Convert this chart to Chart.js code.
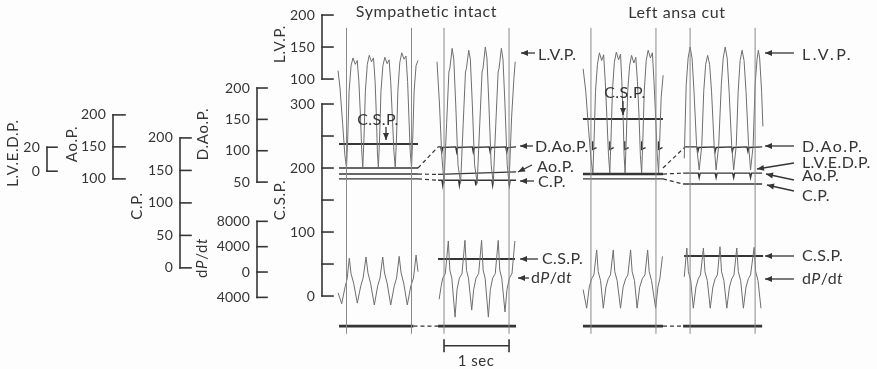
<!DOCTYPE html>
<html>
<head>
<meta charset="utf-8">
<script src="https://cdn.jsdelivr.net/npm/chart.js@4"></script>
<style>
  html, body { margin: 0; padding: 0; background: #fdfdfd; }
  canvas { display: block; }
</style>
</head>
<body>
<canvas id="fig" width="877" height="369"></canvas>
<script>
// Values. Every trace is given on the C.S.P. scale (mmHg),
// i.e. the level where it sits; time is in s from the first 1-s mark of its strip.

const titles = ['Sympathetic intact', 'Left ansa cut'];

// calibration bars on the left (own units)
const lvedpTicks = [0, 20];
const aopTicks = [100, 150, 200];
const cpTicks = [0, 50, 100, 150, 200];
const daopTicks = [50, 100, 150, 200];
const dpdtTicks = [-4000, 0, 4000, 8000];
const dpdtTickLabels = ['4000', '0', '4000', '8000'];
const lvpTicks = [100, 150, 200];
const cspTicks = [0, 50, 100, 150, 200, 250, 300];
const cspTickLabels = ['0', '', '100', '', '200', '', '300'];
const axisNames = ['L.V.E.D.P.', 'Ao.P.', 'C.P.', 'D.Ao.P.', 'dP/dt', 'L.V.P.', 'C.S.P.'];

const labelsIntact = ['L.V.P.', 'D.Ao.P.', 'Ao.P.', 'C.P.', 'C.S.P.', 'dP/dt'];
const labelsCut = ['L.V.P.', 'D.Ao.P.', 'L.V.E.D.P.', 'Ao.P.', 'C.P.', 'C.S.P.', 'dP/dt'];

// left ventricular pressure
const lvpIntactA = [[-0.13,352],[-0.1,325],[-0.06,270],[-0.025,220],
  [0,200],[0.02,250],[0.04,320],[0.07,360],[0.1,372],[0.135,362],[0.165,368],[0.19,335],[0.215,280],[0.235,225],
  [0.25,200],[0.27,250],[0.29,320],[0.32,362],[0.35,376],[0.385,366],[0.415,372],[0.44,335],[0.46,280],[0.475,225],
  [0.49,200],[0.51,250],[0.53,320],[0.56,360],[0.59,373],[0.625,363],[0.655,369],[0.68,335],[0.705,280],[0.73,225],
  [0.75,200],[0.77,250],[0.79,320],[0.82,365],[0.85,380],[0.885,370],[0.915,375],[0.94,335],[0.96,280],[0.98,225],
  [1.0,200],[1.02,250],[1.04,320],[1.07,360],[1.1,368]];
const lvpIntactB = [[-0.108,366],[-0.07,300],[-0.035,220],
  [0,176],[0.04,270],[0.075,350],[0.09,356],[0.125,387],[0.15,370],[0.18,300],[0.215,205],
  [0.255,176],[0.295,270],[0.33,350],[0.345,356],[0.38,384],[0.405,370],[0.435,300],[0.47,205],
  [0.51,176],[0.55,270],[0.585,350],[0.6,356],[0.635,389],[0.66,372],[0.69,300],[0.725,205],
  [0.757,176],[0.797,270],[0.832,350],[0.847,356],[0.882,387],[0.907,370],[0.937,300],[0.972,205],
  [1.0,176],[1.04,280],[1.075,340],[1.095,366]];
const lvpCutA = [[-0.12,355],[-0.08,320],[-0.04,265],[0,215],
  [0.03,192],[0.05,250],[0.07,320],[0.1,362],[0.13,380],[0.165,368],[0.195,377],[0.22,335],[0.245,280],[0.27,220],
  [0.29,192],[0.31,250],[0.33,320],[0.36,365],[0.39,381],[0.425,369],[0.455,378],[0.475,335],[0.495,280],[0.51,220],
  [0.525,192],[0.545,250],[0.565,320],[0.595,360],[0.625,376],[0.66,364],[0.69,373],[0.715,335],[0.74,280],[0.76,220],
  [0.78,192],[0.8,250],[0.82,320],[0.85,368],[0.88,384],[0.915,372],[0.945,380],[0.97,335],[0.995,280],[1.02,220],
  [1.04,192],[1.06,250],[1.08,310],[1.11,345]];
const lvpCutB = [[-0.09,215],[-0.06,330],[-0.03,372],[0,389],[0.03,372],[0.06,320],[0.1,235],[0.14,197],
  [0.18,235],[0.21,320],[0.24,362],[0.27,376],[0.3,362],[0.33,320],[0.37,235],[0.4,197],
  [0.44,235],[0.48,330],[0.51,372],[0.54,389],[0.57,372],[0.6,320],[0.64,235],[0.67,197],
  [0.71,235],[0.74,320],[0.77,368],[0.8,384],[0.83,368],[0.86,320],[0.9,235],[0.93,197],
  [0.97,235],[1.0,330],[1.03,370],[1.05,384],[1.07,372],[1.1,320],[1.12,265]];

// dP/dt
const dpdtIntactA = [[-0.13,5],[-0.074,-12],[-0.02,15],[0.01,27],[0.043,59],[0.07,35],[0.11,20],
  [0.166,-11],[0.22,16],[0.255,28],[0.3,61],[0.33,36],[0.37,20],
  [0.428,-14],[0.48,16],[0.515,28],[0.557,61],[0.585,36],[0.625,20],
  [0.68,-14],[0.735,16],[0.77,28],[0.81,62],[0.84,36],[0.88,20],
  [0.935,-14],[0.99,16],[1.03,28],[1.07,64],[1.1,38]];
const dpdtIntactB = [[-0.075,-5],[-0.045,15],[-0.02,28],[0.02,35],[0.066,86],[0.09,40],[0.12,28],[0.17,-33],[0.2,10],
  [0.236,28],[0.276,35],[0.322,87],[0.346,40],[0.376,28],[0.426,-22],[0.456,10],
  [0.492,28],[0.532,35],[0.578,87],[0.602,40],[0.632,28],[0.682,-33],[0.712,10],
  [0.748,28],[0.788,35],[0.834,87],[0.858,40],[0.888,28],[0.938,-25],[0.968,10],
  [1.005,28],[1.045,35],[1.09,86]];
const dpdtCutA = [[-0.12,10],[-0.066,-19],[-0.026,14],[0.01,27],[0.045,33],[0.088,72],[0.112,38],[0.148,24],
  [0.19,-19],[0.23,14],[0.266,27],[0.3,33],[0.343,72],[0.367,38],[0.403,24],
  [0.455,-19],[0.495,14],[0.534,27],[0.568,33],[0.61,72],[0.634,38],[0.67,24],
  [0.71,-19],[0.75,14],[0.79,27],[0.83,33],[0.872,72],[0.896,38],[0.932,24],
  [0.995,-19],[1.03,14],[1.06,27],[1.1,62]];
const dpdtCutB = [[-0.09,30],[-0.05,75],[-0.026,38],[0.01,24],[0.05,-19],[0.09,14],[0.126,27],[0.16,33],
  [0.205,75],[0.229,38],[0.265,24],[0.31,-19],[0.35,14],[0.386,27],[0.42,33],
  [0.46,77],[0.484,38],[0.52,24],[0.565,-19],[0.605,14],[0.641,27],[0.675,33],
  [0.718,75],[0.742,38],[0.778,24],[0.82,-19],[0.86,14],[0.896,27],[0.93,33],
  [0.985,76],[1.009,38],[1.045,24],[1.09,-19]];

// mean / static pressure lines
const cspIntactA = [[-0.115,237.5],[1.1,237.5]];
const cspIntactB = [[-0.092,58],[1.092,58]];
const cspCutA = [[-0.123,276.6],[1.108,276.6]];
const cspCutB = [[-0.092,62.5],[1.123,62.5]];
const daopIntactA = [[-0.115,200],[1.1,200]];
const daopIntactB = [[-0.092,233],[-0.05,233],[-0.035,225],[-0.02,232],[0.18,233],[0.195,225],[0.21,232],
  [0.435,233],[0.45,225],[0.465,232],[0.695,233],[0.71,225],[0.725,232],[0.95,233],[0.965,225],[0.98,232],[1.108,233]];
const daopCutA = [[0.026,242],[0.026,229],[0.086,232],[0.086,null],[0.29,242],[0.29,229],[0.35,232],[0.35,null],
  [0.52,242],[0.52,229],[0.58,232],[0.58,null],[0.78,242],[0.78,229],[0.84,232],[0.84,null],
  [1.04,242],[1.04,229],[1.1,232]];
const daopCutB = [[-0.077,233],[0.105,233],[0.12,226],[0.135,232],[0.37,233],[0.385,226],[0.4,232],
  [0.635,233],[0.65,226],[0.665,232],[0.875,233],[0.89,226],[0.905,232],[1.108,233]];
const aopIntactA = [[-0.115,190.6],[1.1,190.6]];
const aopIntactB = [[-0.092,190],[1.108,194]];
const aopCutA = [[-0.123,190.6],[1.108,190.6]];
const aopCutB = [[-0.108,192],[0.125,192],[0.14,185],[0.155,192],[0.385,192],[0.4,185],[0.415,192],
  [0.655,192],[0.67,185],[0.685,192],[0.915,192],[0.93,185],[0.945,192],[1.108,192]];
const cpIntactA = [[-0.115,183],[1.1,183]];
const cpIntactB = [[-0.092,181],[-0.032,181],[-0.02,173],[-0.008,181],[0.224,181],[0.236,173],[0.248,181],
  [0.478,181],[0.49,173],[0.502,181],[0.736,181],[0.748,173],[0.76,181],[0.993,181],[1.005,173],[1.017,181],[1.108,181]];
const cpCutA = [[-0.123,183],[1.108,183]];
const cpCutB = [[-0.108,175],[1.108,175]];
const baseIntactA = [[-0.115,-47],[1.03,-47]];
const baseIntactB = [[-0.092,-47],[1.108,-47]];
const baseCutA = [[-0.123,-47],[1.108,-47]];
const baseCutB = [[-0.108,-47],[1.108,-47]];

// dashed joins between the two strips of each condition: [end of left strip, start of right strip]
const joinsIntact = [[[1.1,200],[-0.092,233]], [[1.1,190.6],[-0.092,190]], [[1.1,183],[-0.092,181]], [[1.03,-47],[-0.092,-47]]];
const joinsCut = [[[1.108,200],[-0.077,233]], [[1.108,190.6],[-0.108,192]], [[1.108,183],[-0.108,175]], [[1.108,-47],[-0.108,-47]]];

// 1-s time marks and the 1 sec bar
const markTimes = [0, 1];
const markRange = [-59, 419];
const secBar = [[0,-77.7],[1,-77.7]];

// ---- layout ----
const stripStart = [0, 1.5, 3.76, 5.285];   // s on the common time axis
const ink = '#353535';
const traceInk = '#6e6e6e';
const bars = [
  { ticks: lvedpTicks, px: 47, offset: 195, gain: 1.875, len: 10 },
  { ticks: aopTicks, px: 113, offset: 83, gain: 1, len: 12 },
  { ticks: cpTicks, px: 180, offset: 44, gain: 1.015, len: 11 },
  { ticks: daopTicks, px: 257, offset: 129, gain: 0.98, len: 10 },
  { ticks: dpdtTicks, labels: dpdtTickLabels, px: 257, offset: 37.5, gain: 0.0099, len: 10 },
  { ticks: lvpTicks, px: 322, offset: 239, gain: 1, len: 11 },
  { ticks: cspTicks, labels: cspTickLabels, px: 322, offset: 0, gain: 1, len: 11 }
];
const axisNamePos = [[13,153],[72,144],[137,206],[203,134],[202,258],[280,44],[280,200]];
const notesIntact = [
  { tail: [535,53], tip: [521,53], at: [538,55] },
  { tail: [533,146], tip: [520,146], at: [535,147] },
  { tail: [532,165], tip: [518,172], at: [537,167] },
  { tail: [534,181], tip: [520,181], at: [538,182] },
  { tail: [538,259], tip: [520,259], at: [542,259] },
  { tail: [529,278], tip: [518,278], at: [531,278] }
];
const notesCut = [
  { tail: [794,53], tip: [765,53], at: [802,55], sp: 2.5 },
  { tail: [794,146], tip: [765,146], at: [802,147], sp: 1.5 },
  { tail: [794,163], tip: [757,169], at: [802,163] },
  { tail: [794,180], tip: [766,174], at: [802,176] },
  { tail: [794,191], tip: [767,185], at: [802,196] },
  { tail: [794,256], tip: [765,256], at: [802,256] },
  { tail: [794,279], tip: [765,279], at: [802,279] }
];

function place(points, strip) {
  return points.map(([t, v]) => ({ x: t + stripStart[strip], y: v }));
}
function line(points, strip, color, width, dash) {
  return { data: place(points, strip), borderColor: color, borderWidth: width,
    borderDash: dash || [], pointRadius: 0, tension: 0, fill: false, spanGaps: false };
}
function join(pair, fromStrip, toStrip) {
  return { data: [{ x: pair[0][0] + stripStart[fromStrip], y: pair[0][1] },
                  { x: pair[1][0] + stripStart[toStrip], y: pair[1][1] }],
    borderColor: ink, borderWidth: 1.2, borderDash: [4, 3], pointRadius: 0, tension: 0, fill: false };
}

const datasets = [];
[0, 1, 2, 3].forEach(s => markTimes.forEach(t =>
  datasets.push(line([[t, markRange[0]], [t, markRange[1]]], s, '#8a8a8a', 1))));
[[lvpIntactA, 0], [lvpIntactB, 1], [lvpCutA, 2], [lvpCutB, 3],
 [dpdtIntactA, 0], [dpdtIntactB, 1], [dpdtCutA, 2], [dpdtCutB, 3]].forEach(([d, s]) =>
  datasets.push(line(d, s, traceInk, 1)));
[[daopIntactA, 0], [daopIntactB, 1], [daopCutA, 2], [daopCutB, 3],
 [aopIntactA, 0], [aopIntactB, 1], [aopCutB, 3],
 [cpIntactA, 0], [cpIntactB, 1], [cpCutA, 2], [cpCutB, 3]].forEach(([d, s]) =>
  datasets.push(line(d, s, ink, 1.4)));
datasets.push(line(aopCutA, 2, ink, 2.4));
[[cspIntactA, 0], [cspIntactB, 1], [cspCutA, 2], [cspCutB, 3]].forEach(([d, s]) =>
  datasets.push(line(d, s, ink, 2)));
[[baseIntactA, 0], [baseIntactB, 1], [baseCutA, 2], [baseCutB, 3]].forEach(([d, s]) =>
  datasets.push(line(d, s, ink, 2.6)));
joinsIntact.forEach(p => datasets.push(join(p, 0, 1)));
joinsCut.forEach(p => datasets.push(join(p, 2, 3)));
datasets.push(line(secBar, 1, ink, 1.6));
secBar.forEach(([t, v]) => datasets.push(line([[t, v + 10], [t, v - 10]], 1, ink, 1.6)));

function textParts(text) {
  return text === 'dP/dt' ? [['d', false], ['P', true], ['/d', false], ['t', true]] : [[text, false]];
}
function drawText(ctx, text, x, y, size, spacing, align) {
  const parts = textParts(text);
  const font = it => (it ? 'italic ' : '') + size + 'px Lato';
  ctx.letterSpacing = spacing + 'px';
  let w = 0;
  parts.forEach(([s, it]) => { ctx.font = font(it); w += ctx.measureText(s).width; });
  let cx = align === 'center' ? x - w / 2 : align === 'right' ? x - w : x;
  ctx.textAlign = 'left';
  ctx.textBaseline = 'middle';
  parts.forEach(([s, it]) => { ctx.font = font(it); ctx.fillText(s, cx, y); cx += ctx.measureText(s).width; });
  ctx.letterSpacing = '0px';
}
function arrow(ctx, tail, tip) {
  const a = Math.atan2(tip[1] - tail[1], tip[0] - tail[0]);
  ctx.beginPath(); ctx.moveTo(tail[0], tail[1]); ctx.lineTo(tip[0], tip[1]); ctx.stroke();
  ctx.beginPath();
  ctx.moveTo(tip[0], tip[1]);
  ctx.lineTo(tip[0] - 7 * Math.cos(a) + 3 * Math.sin(a), tip[1] - 7 * Math.sin(a) - 3 * Math.cos(a));
  ctx.lineTo(tip[0] - 7 * Math.cos(a) - 3 * Math.sin(a), tip[1] - 7 * Math.sin(a) + 3 * Math.cos(a));
  ctx.closePath(); ctx.fill();
}

const figureText = {
  id: 'figureText',
  afterDatasetsDraw(chart) {
    const { ctx } = chart;
    const y = chart.scales.y;
    ctx.save();
    ctx.fillStyle = ink;
    ctx.strokeStyle = ink;
    ctx.lineCap = 'square';

    bars.forEach(b => {
      const py = v => y.getPixelForValue(b.offset + b.gain * v);
      ctx.lineWidth = 1.6;
      ctx.beginPath();
      ctx.moveTo(b.px, py(b.ticks[b.ticks.length - 1]));
      ctx.lineTo(b.px, py(b.ticks[0]));
      ctx.stroke();
      b.ticks.forEach((t, i) => {
        const yy = py(t);
        ctx.beginPath(); ctx.moveTo(b.px, yy); ctx.lineTo(b.px + b.len, yy); ctx.stroke();
        const label = b.labels ? b.labels[i] : String(t);
        if (label) drawText(ctx, label, b.px - 7, yy, 14, 0.2, 'right');
      });
    });

    axisNames.forEach((n, i) => {
      ctx.save();
      ctx.translate(axisNamePos[i][0], axisNamePos[i][1]);
      ctx.rotate(-Math.PI / 2);
      drawText(ctx, n, 0, 0, 15, 0.7, 'center');
      ctx.restore();
    });

    ctx.lineCap = 'butt';
    ctx.lineWidth = 1.3;
    [[labelsIntact, notesIntact], [labelsCut, notesCut]].forEach(([labels, notes]) =>
      labels.forEach((l, i) => {
        const n = notes[i];
        arrow(ctx, n.tail, n.tip);
        drawText(ctx, l, n.at[0], n.at[1], 16, n.sp || 0.4, 'left');
      }));

    drawText(ctx, titles[0], 426.5, 12, 16, 0.6, 'center');
    drawText(ctx, titles[1], 677, 13, 16, 0.6, 'center');

    drawText(ctx, 'C.S.P.', 378, 120, 16, 0.5, 'center');
    arrow(ctx, [386, 127], [386, 140]);
    drawText(ctx, 'C.S.P.', 625, 93, 16, 0.5, 'center');
    arrow(ctx, [623, 101], [623, 115]);

    drawText(ctx, '1 sec', 476, 361, 15, 0.5, 'center');
    ctx.restore();
  }
};

new Chart(document.getElementById('fig').getContext('2d'), {
  type: 'line',
  data: { datasets },
  options: {
    responsive: false,
    animation: false,
    events: [],
    layout: { padding: 0 },
    plugins: { legend: { display: false }, tooltip: { enabled: false } },
    scales: {
      x: { type: 'linear', display: false, min: -5.33, max: 8.16 },
      y: { type: 'linear', display: false, min: -114, max: 462.5 }
    }
  },
  plugins: [figureText]
});
</script>
</body>
</html>
